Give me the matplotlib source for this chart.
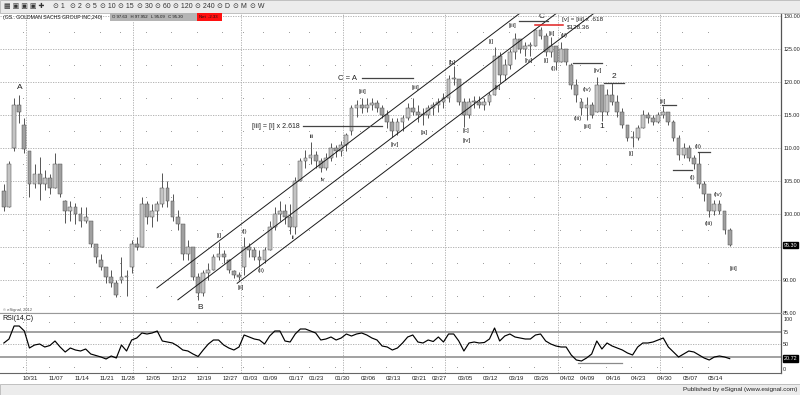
import numpy as np
import matplotlib.pyplot as plt
from matplotlib.patches import Rectangle

plt.rcParams['font.family'] = ['Liberation Sans', 'DejaVu Sans']

opens = [103.5, 101.0, 110.0, 116.5, 113.5,
         109.5, 104.5, 106.0, 104.5, 105.5,
         104.0, 107.5, 102.0, 100.5, 101.0,
         100.0, 99.0, 99.0, 95.5, 93.0,
         92.0, 90.5, 89.5, 90.0, 90.5,
         92.0, 95.5, 95.0, 101.5, 99.5,
         100.5, 101.5, 104.0, 102.0, 99.5,
         98.5, 94.0, 95.0, 90.5, 88.0,
         91.0, 91.5, 93.5, 94.0, 93.0,
         91.3, 90.8, 92.0, 95.0, 94.5,
         93.5, 93.0, 94.5, 98.0, 100.0,
         100.5, 99.5, 98.0, 105.0, 108.0,
         108.5, 109.0, 108.0, 107.0, 108.5,
         110.0, 109.5, 110.5, 112.5, 116.0,
         116.5, 116.0, 116.5, 116.8, 116.0,
         115.0, 114.0, 112.5, 114.0, 114.5,
         116.0, 115.5, 115.0, 115.0, 116.0,
         116.5, 117.0, 117.5, 120.5, 120.5,
         117.0, 115.0, 117.0, 117.0, 116.5,
         117.0, 118.0, 124.0, 121.0, 122.5,
         124.5, 126.5, 125.0, 125.5, 125.5,
         127.8, 127.0, 124.5, 125.5, 123.0,
         125.0, 122.5, 119.5, 117.0, 116.0,
         116.5, 115.5, 119.5, 115.5, 118.0,
         117.0, 115.5, 113.5, 111.5, 111.5,
         113.0, 115.0, 114.5, 114.0, 115.0,
         115.5, 114.0, 111.5, 109.0, 110.0,
         108.5, 107.5, 104.5, 103.0, 100.5,
         101.5, 100.5, 97.6]
highs = [104.5, 108.0, 117.6, 118.0, 114.5,
         109.5, 107.5, 108.6, 106.7, 106.0,
         109.2, 107.5, 102.1, 102.0, 101.7,
         101.0, 101.0, 99.0, 95.5, 94.0,
         92.0, 91.5, 90.0, 93.5, 91.5,
         96.0, 96.5, 102.6, 102.0, 101.5,
         102.0, 106.2, 105.0, 103.0, 100.6,
         98.5, 96.0, 95.0, 91.0, 91.5,
         92.6, 94.0, 95.8, 94.5, 93.2,
         91.5, 91.2, 96.5, 95.6, 95.0,
         94.5, 95.0, 99.0, 101.0, 102.0,
         101.5, 101.5, 105.6, 108.5, 109.7,
         110.9, 109.5, 108.5, 109.2, 110.8,
         110.5, 111.0, 112.3, 116.5, 117.3,
         117.6, 117.5, 117.5, 117.2, 116.5,
         115.8, 114.5, 114.5, 115.0, 116.8,
         117.5, 116.5, 116.0, 116.5, 117.0,
         117.5, 118.3, 121.0, 122.4, 120.5,
         117.5, 117.5, 117.8, 117.8, 117.5,
         118.5, 125.3, 124.5, 123.5, 125.0,
         127.4, 126.5, 126.0, 126.0, 128.0,
         128.4, 127.4, 126.8, 125.5, 126.1,
         125.0, 122.8, 120.5, 117.5, 117.7,
         117.0, 120.8, 119.5, 119.0, 119.8,
         118.0, 116.0, 113.5, 112.5, 113.5,
         115.8, 115.5, 115.0, 115.5, 116.4,
         115.5, 114.2, 112.0, 110.8, 110.5,
         109.0, 109.4, 105.0, 103.0, 102.1,
         102.1, 100.5, 97.9]
lows = [100.5, 101.0, 109.5, 113.8, 109.2,
        102.6, 104.0, 102.1, 103.6, 103.0,
        104.0, 102.6, 98.6, 99.0, 98.5,
        98.0, 98.6, 95.0, 92.5, 91.5,
        89.5, 89.0, 87.4, 89.5, 87.6,
        91.0, 94.5, 95.0, 98.5, 98.0,
        99.0, 101.0, 101.0, 99.0, 97.6,
        93.0, 93.0, 90.0, 87.0, 87.5,
        90.0, 91.5, 93.0, 92.6, 91.0,
        90.3, 90.0, 90.8, 93.5, 93.0,
        92.0, 92.5, 94.5, 97.6, 99.0,
        98.5, 97.0, 97.0, 105.0, 107.0,
        107.5, 107.0, 106.4, 106.7, 108.0,
        108.6, 108.8, 109.5, 112.0, 114.7,
        115.3, 115.5, 115.8, 115.5, 114.5,
        113.0, 111.7, 112.0, 112.5, 114.2,
        115.0, 114.0, 113.5, 114.5, 115.0,
        115.5, 116.0, 117.0, 119.5, 116.5,
        113.2, 114.5, 116.0, 116.0, 115.8,
        116.5, 118.0, 119.8, 120.3, 122.0,
        123.5, 124.4, 124.0, 124.0, 125.5,
        126.5, 124.0, 123.8, 121.8, 123.0,
        122.5, 119.0, 117.0, 115.0, 114.2,
        114.5, 115.5, 114.1, 115.0, 116.5,
        114.7, 113.0, 111.0, 110.2, 111.2,
        113.0, 113.8, 113.5, 113.8, 114.5,
        113.5, 111.0, 108.2, 108.5, 108.0,
        106.8, 104.0, 102.0, 99.5, 99.8,
        100.0, 97.0, 95.1]
closes = [101.0, 107.5, 116.5, 115.5, 109.8,
          104.5, 106.0, 104.5, 105.5, 104.0,
          107.5, 103.0, 100.5, 101.0, 100.0,
          99.0, 99.5, 95.5, 93.5, 92.0,
          90.5, 89.5, 87.8, 90.5, 90.5,
          95.5, 95.0, 101.5, 99.5, 100.5,
          101.5, 104.0, 102.0, 99.5, 98.5,
          94.0, 95.0, 90.5, 88.0, 91.0,
          91.5, 93.5, 94.0, 93.5, 91.5,
          90.8, 90.5, 95.0, 94.5, 93.5,
          93.0, 94.5, 98.0, 100.0, 100.5,
          99.5, 98.0, 105.0, 108.0, 108.5,
          109.0, 108.0, 107.0, 108.5, 110.0,
          109.5, 110.5, 112.0, 116.0, 116.5,
          116.0, 116.5, 116.8, 116.0, 115.0,
          114.0, 112.5, 114.0, 114.5, 116.0,
          115.5, 115.0, 115.0, 116.0, 116.5,
          117.0, 117.5, 120.5, 120.5, 117.0,
          115.0, 117.0, 117.0, 116.5, 117.0,
          118.0, 124.0, 121.0, 122.5, 124.5,
          126.5, 125.0, 125.5, 125.5, 127.8,
          127.0, 124.5, 125.5, 123.0, 125.0,
          123.0, 119.5, 118.0, 116.0, 116.5,
          115.0, 119.5, 115.5, 118.0, 117.0,
          115.5, 113.5, 111.5, 111.5, 113.0,
          115.0, 114.5, 114.0, 115.0, 115.5,
          114.0, 111.5, 109.0, 110.0, 108.5,
          107.5, 104.5, 103.0, 100.5, 101.5,
          100.5, 97.5, 95.3]
rsi = [52, 60, 86, 86, 76,
       42, 48, 50, 44, 47,
       56, 44, 34, 42, 38,
       36, 40, 30, 27, 24,
       20, 26, 22, 48, 36,
       58, 62, 72, 70, 72,
       76, 56, 54, 52, 46,
       38, 36, 30, 25, 38,
       50, 58, 58, 48, 42,
       38, 44, 68, 64, 60,
       58, 50, 66, 76, 76,
       56, 54, 70, 80, 80,
       76, 72, 58, 60, 64,
       58, 62, 70, 66, 70,
       72, 68, 62, 58, 46,
       44, 38, 42, 52, 64,
       68, 54, 52, 58, 55,
       64, 54, 70, 70, 56,
       36, 52, 54, 52, 53,
       60, 82, 56, 66, 70,
       64, 62, 60, 60, 68,
       70, 56, 50, 46, 44,
       44, 28, 18, 16, 22,
       30, 56, 40, 52, 46,
       42, 38, 32, 28, 44,
       52, 52, 54, 58, 62,
       44, 34, 24, 30, 36,
       34, 28, 22, 18, 24,
       26, 24, 20.72]

date_labels = ['10/31', '11/07', '11/14', '11/21', '11/28', '12/05', '12/12', '12/19',
               '12/27', '01/03', '01/09', '01/17', '01/23', '01/30', '02/06', '02/13',
               '02/21', '02/27', '03/05', '03/12', '03/19', '03/26', '04/02', '04/09',
               '04/16', '04/23', '04/30', '05/07', '05/14']
date_days = [4, 9, 14, 19, 23, 28, 33, 38, 43, 47, 51, 56, 60, 65, 70, 75,
             80, 84, 89, 94, 99, 104, 109, 113, 118, 123, 128, 133, 138]
month_days = [5, 26, 47, 67, 87, 109, 129]
price_grid = [130, 125, 120, 115, 110, 105, 100, 95, 90, 85]
price_ticks = [130, 125, 120, 115, 110, 105, 100, 90, 85]
rsi_ticks = [100, 75, 50, 0]
last_price = 95.30
last_rsi = 20.72

wave_labels = [("A", 3.4, 119.1), ("B", 38.6, 85.9),
               ("[i]", 42.4, 96.8), ("[ii]", 46.5, 88.9), ("(i)", 47.4, 97.3),
               ("(ii)", 50.6, 91.5), ("ii", 56.8, 96.4), ("iii", 60.4, 111.7),
               ("iv", 62.7, 105.2), ("[iii]", 70.3, 118.6), ("[iv]", 76.8, 110.5),
               ("[iii]", 80.7, 119.1), ("[a]", 82.5, 112.4), ("[b]", 88.0, 123.0),
               ("[c]", 90.7, 112.6), ("[iv]", 90.7, 111.2), ("[i]", 95.6, 126.2),
               ("[ii]", 96.8, 119.1), ("[iii]", 99.7, 128.5), ("[iv]", 103.0, 123.2),
               ("C", 105.4, 129.9), ("[i]", 106.3, 123.2), ("[ii]", 107.5, 127.4),
               ("(i)", 107.7, 122.1), ("(ii)", 109.9, 127.1), ("(iii)", 112.6, 114.5),
               ("(iv)", 114.4, 118.8), ("[iii]", 114.4, 113.3), ("[iv]", 116.5, 121.8),
               ("1", 117.3, 113.2), ("2", 119.7, 120.8), ("[i]", 123.0, 109.2),
               ("[ii]", 129.2, 117.1), ("(i)", 134.9, 105.6), ("(ii)", 136.1, 110.2),
               ("(iii)", 138.1, 98.6), ("(iv)", 140.0, 103.0), ("[iii]", 142.9, 91.7)]

# parallel channel: start point of each line, common slope (price per day)
channel_starts = [(30.2, 88.8), (34.3, 87.0), (45.9, 89.5)]
channel_slope = 0.586

# horizontal target / pivot lines: (day from, day to, price)
level_lines = [(70.3, 80.3, 120.6), (58.8, 74.3, 113.3), (101.0, 106.7, 129.2),
               (111.6, 117.3, 122.9), (117.7, 121.6, 119.8), (129.1, 131.8, 116.5),
               (131.2, 134.9, 106.7), (136.1, 138.4, 109.4)]
target_line = (104.2, 109.7, 128.7)
rsi_support = (112.6, 121.2, 12)

W, H = 800, 395
fig = plt.figure(figsize=(W / 100, H / 100), dpi=100)
fig.patch.set_facecolor('white')


def fy(py):
    return 1 - py / H


ax = fig.add_axes([0, fy(313), 781 / W, 300 / H])
ar = fig.add_axes([0, fy(373), 781 / W, 60 / H])

o, hi, lo, c = map(np.array, (opens, highs, lows, closes))
xc = np.arange(len(c)) + 0.26
up = c >= o

grid_kw = dict(color='#a8a8a8', lw=0.6, ls=(0, (1.5, 1.5)), zorder=0)
for p in price_grid:
    ax.axhline(p, **grid_kw)
for m in month_days:
    ax.axvline(m - 0.4, **grid_kw)
    ar.axvline(m - 0.4, **grid_kw)
gx, gy = np.meshgrid(date_days, np.array(price_grid[:-1]) - 2.5)
ax.scatter(gx.ravel(), gy.ravel(), s=0.5, c='#9a9a9a', lw=0, zorder=0)
gx, gy = np.meshgrid(date_days, [94, 5])
ar.scatter(gx.ravel(), gy.ravel(), s=0.5, c='#9a9a9a', lw=0, zorder=0)

# candles
ax.vlines(xc, lo, hi, color='#555555', lw=0.7, zorder=3)
bot = np.minimum(o, c)
ht = np.maximum(np.abs(c - o), 0.15)
ax.bar(xc[up], ht[up], bottom=bot[up], width=0.75, color='#c4c4c4',
       edgecolor='#505050', lw=0.35, zorder=4)
ax.bar(xc[~up], ht[~up], bottom=bot[~up], width=0.75, color='#a0a0a0',
       edgecolor='#505050', lw=0.35, zorder=4)

# channel lines
for d0, p0 in channel_starts:
    d1 = d0 + (131.5 - p0) / channel_slope
    ax.plot([d0, d1], [p0, 131.5], color='#1a1a1a', lw=0.7, zorder=5)

for d0, d1, p in level_lines:
    ax.plot([d0, d1], [p, p], color='#444444', lw=0.9, zorder=5)
ax.plot(target_line[:2], [target_line[2]] * 2, color='#e02020', lw=1.1, zorder=6)

for txt, d, p in wave_labels:
    fs = 6 if txt in ('A', 'B', 'C', '1', '2') else 4.6
    ax.text(d, p, txt, fontsize=fs, ha='center', va='center', color='#222222', zorder=7)
ax.text(69.4, 120.6, 'C = A', fontsize=5.5, ha='right', va='center', color='#222222')
ax.text(58.2, 113.3, '[iii] = [i] x 2.618', fontsize=5, ha='right', va='center',
        color='#222222')
ax.text(109.5, 129.4, '[v] = [iii] x .618', fontsize=4.6, ha='left', va='center',
        color='#222222')
ax.text(110.5, 128.3, '$128.36', fontsize=4.6, ha='left', va='center', color='#222222')
ax.text(0.004, 85.5, '\u00a9 eSignal, 2012', fontsize=3, ha='left', va='center',
        color='#555555')

ax.set_xlim(-0.5, 152.3)
ax.set_ylim(85.0, 130.45)
ax.yaxis.tick_right()
ax.set_yticks(price_ticks)
ax.set_yticklabels([f'{v:.2f}' for v in price_ticks])
ax.tick_params(axis='y', length=0, pad=1.5, labelsize=3.9, labelcolor='#222222')
ax.tick_params(axis='x', bottom=False, labelbottom=False)
ax.text(1.003, last_price, f'{last_price:.2f}', transform=ax.get_yaxis_transform(),
        fontsize=3.9, color='white', va='center', ha='left', zorder=8,
        bbox=dict(boxstyle='square,pad=0.15', fc='black', ec='black'))

# RSI panel
ar.axhline(75, color='#9a9a9a', lw=1.3, zorder=1)
ar.axhline(25, color='#9a9a9a', lw=1.3, zorder=1)
ar.axhline(50, **grid_kw)
ar.plot(xc, rsi, color='black', lw=0.85, zorder=3)
ar.plot(rsi_support[:2], [rsi_support[2]] * 2, color='#8a8a8a', lw=0.9, zorder=2)
ar.set_xlim(-0.5, 152.3)
ar.set_ylim(-8, 112)
ar.yaxis.tick_right()
ar.set_yticks(rsi_ticks)
ar.set_yticklabels([str(v) for v in rsi_ticks])
ar.tick_params(axis='y', length=0, pad=1.5, labelsize=3.9, labelcolor='#222222')
ar.set_xticks(date_days)
ar.set_xticklabels(date_labels)
ar.tick_params(axis='x', length=0, pad=2, labelsize=4.4, labelcolor='#222222')
for lbl in ar.get_xticklabels():
    lbl.set_ha('left')
ar.text(1.003, last_rsi, f'{last_rsi:.2f}', transform=ar.get_yaxis_transform(),
        fontsize=3.9, color='white', va='center', ha='left', zorder=8,
        bbox=dict(boxstyle='square,pad=0.15', fc='black', ec='black'))
ar.text(0.003, 0.9, 'RSI(14,C)', transform=ar.transAxes, fontsize=5,
        ha='left', va='center', color='#111111')

for a in (ax, ar):
    a.set_facecolor('white')
    a.spines['left'].set_visible(False)
    a.spines['right'].set_color('#555555')
    a.spines['right'].set_linewidth(0.9)
ax.spines['top'].set_visible(False)
ax.spines['bottom'].set_color('#999999')
ar.spines['top'].set_color('#999999')
ar.spines['bottom'].set_color('#666666')

# toolbar and header
fig.patches.append(Rectangle((0, fy(13)), 1, 13 / H, transform=fig.transFigure,
                             fc='#ececec', ec='#b8b8b8', lw=0.6))
fig.text(4 / W, fy(6.5), '\u25a6 \u25a3 \u25a3 \u25a3 \u271a', fontsize=5,
         va='center', ha='left', color='#333333')
tb_items = ['1', '2', '5', '10', '15', '30', '60', '120', '240', 'D', 'M', 'W']
tb_x = [53, 70, 85, 100, 118, 137, 155, 173, 195, 217, 233, 250]
for t, px in zip(tb_items, tb_x):
    fig.text(px / W, fy(6.5), '\u2299 ' + t, fontsize=5, va='center', ha='left',
             color='#333333')
fig.text(3 / W, fy(17), '(GS.. GOLDMAN SACHS GROUP INC,240)', fontsize=3.7,
         va='center', ha='left', color='#111111')
fig.patches.append(Rectangle((110 / W, fy(21)), 87 / W, 8 / H, transform=fig.transFigure,
                             fc='#b4b4b4', ec='none'))
fig.text(112 / W, fy(17), 'O 97.63   H 97.952   L 95.09   C 95.30', fontsize=3.1,
         va='center', ha='left', color='#111111')
fig.patches.append(Rectangle((197 / W, fy(21)), 25 / W, 8 / H, transform=fig.transFigure,
                             fc='#ff1010', ec='none'))
fig.text(199 / W, fy(17), 'Net  -2.33', fontsize=3.1, va='center', ha='left',
         color='#111111')

# status bar
fig.patches.append(Rectangle((0, 0), 1, 11 / H, transform=fig.transFigure,
                             fc='#ececec', ec='#b8b8b8', lw=0.6))
fig.text(797 / W, fy(389.5), 'Published by eSignal (www.esignal.com)', fontsize=4.6,
         va='center', ha='right', color='#222222')

fig.savefig('out.png', dpi=100, facecolor='white')
